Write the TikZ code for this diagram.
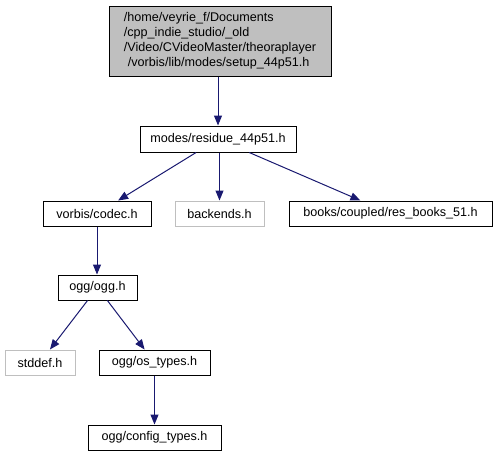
\documentclass[tikz,border=0pt]{standalone}
\usepackage{fontspec}
\setmainfont{Liberation Sans}
\usepackage{tikz}
\usetikzlibrary{arrows.meta}
\definecolor{edgeblue}{HTML}{191970}
\definecolor{greybox}{HTML}{BFBFBF}

\begin{document}
\begin{tikzpicture}[x=1pt, y=-1pt,
  file/.style={draw=black, line width=1pt, fill=white, inner sep=0pt, minimum height=25pt, font=\fontsize{12.6}{15}\selectfont},
  missing/.style={file, draw=greybox},
  incl/.style={draw=edgeblue, line width=1pt, -{Triangle[length=10pt, width=8pt]}}]
\useasboundingbox (0,0) rectangle (497,456);
\node[file, fill=greybox, minimum width=222pt, minimum height=70pt, align=left] (setup) at (220,41) {/home/veyrie\_f/Documents\\/cpp\_indie\_studio/\_old\\/Video/CVideoMaster/theoraplayer\\\hspace{4pt}/vorbis/lib/modes/setup\_44p51.h};
\node[file, minimum width=156pt, minimum height=26pt] (residue) at (218,139) {modes/residue\_44p51.h};
\node[file, minimum width=108pt] (codec) at (97,213.5) {vorbis/codec.h};
\node[missing, minimum width=89pt] (backends) at (219.5,213.5) {backends.h};
\node[file, minimum width=203pt] (books) at (390.5,213.5) {books/coupled/res\_books\_51.h};
\node[file, minimum width=79pt] (ogg) at (97.5,287.5) {ogg/ogg.h};
\node[missing, minimum width=70pt] (stddef) at (40,362.5) {stddef.h};
\node[file, minimum width=111pt] (ostypes) at (154.5,362.5) {ogg/os\_types.h};
\node[file, minimum width=133pt] (config) at (154.5,437.5) {ogg/config\_types.h};
\draw[incl] (setup.south -| residue) -- (residue);
\draw[incl] (residue) -- (codec);
\draw[incl] (residue.south -| backends) -- (backends);
\draw[incl] (residue) -- (books);
\draw[incl] (codec) -- (ogg.north -| codec);
\draw[incl] (ogg) -- (stddef);
\draw[incl] (ogg) -- (ostypes);
\draw[incl] (ostypes) -- (config);
\end{tikzpicture}
\end{document}
